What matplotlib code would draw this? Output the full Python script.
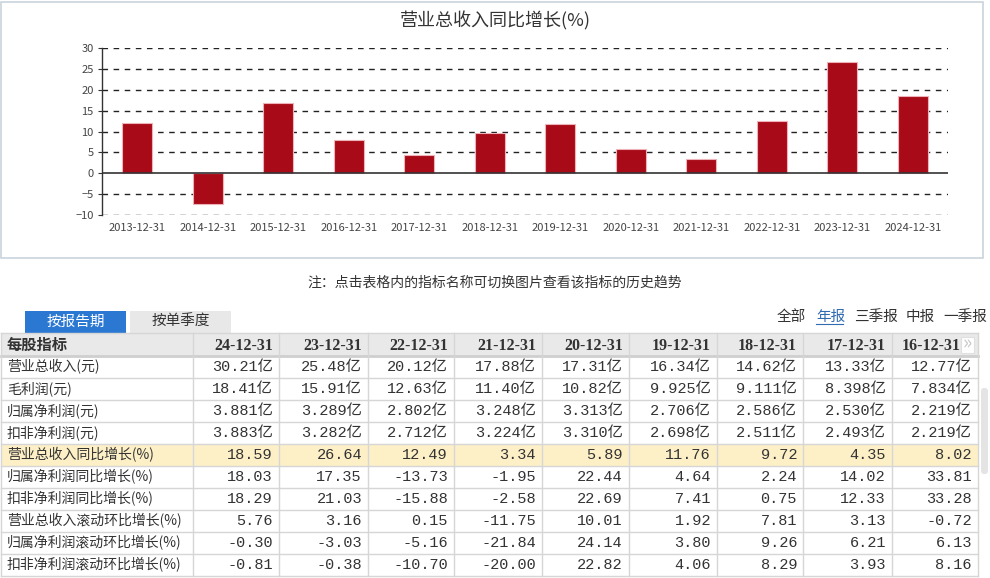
import matplotlib
matplotlib.use('Agg')
import matplotlib.pyplot as plt
from matplotlib.patches import Rectangle, FancyBboxPatch

plt.rcParams['font.family'] = ['Noto Sans CJK SC', 'DejaVu Sans']

years = ['2013-12-31', '2014-12-31', '2015-12-31', '2016-12-31', '2017-12-31', '2018-12-31',
         '2019-12-31', '2020-12-31', '2021-12-31', '2022-12-31', '2023-12-31', '2024-12-31']
growth = [12.0, -7.3, 16.8, 8.02, 4.35, 9.72, 11.76, 5.89, 3.34, 12.49, 26.64, 18.59]

col_dates = ['24-12-31', '23-12-31', '22-12-31', '21-12-31', '20-12-31',
             '19-12-31', '18-12-31', '17-12-31', '16-12-31']
row_names = ['营业总收入(元)', '毛利润(元)', '归属净利润(元)', '扣非净利润(元)',
             '营业总收入同比增长(%)', '归属净利润同比增长(%)', '扣非净利润同比增长(%)',
             '营业总收入滚动环比增长(%)', '归属净利润滚动环比增长(%)', '扣非净利润滚动环比增长(%)']
revenue = ['30.21亿', '25.48亿', '20.12亿', '17.88亿', '17.31亿', '16.34亿', '14.62亿', '13.33亿', '12.77亿']
gross = ['18.41亿', '15.91亿', '12.63亿', '11.40亿', '10.82亿', '9.925亿', '9.111亿', '8.398亿', '7.834亿']
net = ['3.881亿', '3.289亿', '2.802亿', '3.248亿', '3.313亿', '2.706亿', '2.586亿', '2.530亿', '2.219亿']
net_adj = ['3.883亿', '3.282亿', '2.712亿', '3.224亿', '3.310亿', '2.698亿', '2.511亿', '2.493亿', '2.219亿']
rev_yoy = ['18.59', '26.64', '12.49', '3.34', '5.89', '11.76', '9.72', '4.35', '8.02']
net_yoy = ['18.03', '17.35', '-13.73', '-1.95', '22.44', '4.64', '2.24', '14.02', '33.81']
adj_yoy = ['18.29', '21.03', '-15.88', '-2.58', '22.69', '7.41', '0.75', '12.33', '33.28']
rev_qoq = ['5.76', '3.16', '0.15', '-11.75', '10.01', '1.92', '7.81', '3.13', '-0.72']
net_qoq = ['-0.30', '-3.03', '-5.16', '-21.84', '24.14', '3.80', '9.26', '6.21', '6.13']
adj_qoq = ['-0.81', '-0.38', '-10.70', '-20.00', '22.82', '4.06', '8.29', '3.93', '8.16']
table_rows = [revenue, gross, net, net_adj, rev_yoy, net_yoy, adj_yoy, rev_qoq, net_qoq, adj_qoq]

W, H = 990, 578
fig = plt.figure(figsize=(W / 100, H / 100), dpi=100)

# page overlay in pixel coordinates
pg = fig.add_axes([0, 0, 1, 1])
pg.set_xlim(0, W)
pg.set_ylim(H, 0)
pg.axis('off')

txt = '#333333'

# chart panel border
pg.add_patch(Rectangle((1, 2), 982, 256, fill=False, ec='#c9d4dc', lw=1.2))
pg.text(495, 21, '营业总收入同比增长(%)', ha='center', va='center', fontsize=13, color=txt)

# note
pg.text(495, 282, '注：点击表格内的指标名称可切换图片查看该指标的历史趋势',
        ha='center', va='center', fontsize=10, color=txt)

# tabs
pg.add_patch(Rectangle((25, 311), 101, 22, fc='#2b78d2', ec='none'))
pg.text(75.5, 322, '按报告期', ha='center', va='center', fontsize=10.5, color='white')
pg.add_patch(Rectangle((130, 311), 101, 22, fc='#e8e8e8', ec='none'))
pg.text(180.5, 322, '按单季度', ha='center', va='center', fontsize=10.5, color=txt)

# report type links
links = [('全部', 777, txt), ('年报', 816, '#2f6bb0'), ('三季报', 854, txt),
         ('中报', 906, txt), ('一季报', 943, txt)]
for s, x, c in links:
    pg.text(x, 317, s, ha='left', va='center', fontsize=10.5, color=c)
pg.plot([816, 843], [324, 324], color='#2f6bb0', lw=0.8)

# table
col_edges = [1, 193, 279, 368, 454, 542, 629, 717, 803, 892, 978]
head_top, head_bot, row_h = 333, 356, 22
grid_c = '#d6d6d6'
num_font = ['Liberation Mono', 'Noto Sans CJK SC']

pg.add_patch(Rectangle((1, head_top), 977, head_bot - head_top, fc='#e9e9e9', ec='none'))
pg.text(7, (head_top + head_bot) / 2, '每股指标', ha='left', va='center',
        fontsize=11, fontweight='bold', color=txt)
for j, d in enumerate(col_dates):
    xr = col_edges[j + 2] - 6
    if j == len(col_dates) - 1:
        xr = col_edges[j + 2] - 17
    pg.text(xr, (head_top + head_bot) / 2 + 1, d, ha='right', va='center',
            fontsize=11.5, fontweight='bold', family='Liberation Serif', color=txt)

# >> icon in last header cell
pg.add_patch(Rectangle((961, 337), 13, 16, fc='white', ec='#e0e0e0', lw=0.8))
pg.text(967.5, 344, '»', ha='center', va='center', fontsize=14, color='#c8c8c8')

for i, (name, vals) in enumerate(zip(row_names, table_rows)):
    top = head_bot + i * row_h
    if i == 4:
        pg.add_patch(Rectangle((1, top), 977, row_h, fc='#fdf0c6', ec='none'))
    yc = top + row_h / 2
    pg.text(7, yc, name, ha='left', va='center', fontsize=10, color=txt)
    for j, v in enumerate(vals):
        pg.text(col_edges[j + 2] - 6, yc, v, ha='right', va='center', fontsize=11,
                family=num_font, color=txt)

bottom = head_bot + len(row_names) * row_h
for k in range(len(row_names) + 2):
    y = head_top if k == 0 else head_bot + (k - 1) * row_h
    pg.plot([1, 978], [y, y], color=grid_c, lw=1)
pg.plot([1, 978], [head_bot, head_bot], color='#cfcfcf', lw=2)
for x in col_edges:
    pg.plot([x, x], [head_top, bottom], color=grid_c, lw=1)

# scrollbar
pg.add_patch(FancyBboxPatch((981, 388), 7, 86, boxstyle='round,pad=0,rounding_size=3',
                            fc='#e4e4e4', ec='none'))

# bar chart
x0, x1, y_top, y_bot = 102, 948, 48, 215
ax = fig.add_axes([x0 / W, 1 - y_bot / H, (x1 - x0) / W, (y_bot - y_top) / H])
xs = range(len(years))
ax.bar(xs, growth, width=0.425, color='#a80a18', edgecolor='#eeb3b8', linewidth=0.8, zorder=3)
ax.set_xlim(-0.5, len(years) - 0.5)
ax.set_ylim(-10, 30)
ax.set_yticks(range(-10, 31, 5))
for v in range(-10, 31, 5):
    if v != 0:
        ax.axhline(v, color='#222222', lw=1, ls=(0, (4, 4)), zorder=1)
ax.axhline(0, color='#333333', lw=1.2, zorder=4)
ax.set_xticks(list(xs))
ax.set_xticklabels(years)
ax.tick_params(axis='x', length=0, pad=6, labelsize=8, labelcolor='#444444')
ax.tick_params(axis='y', length=3, width=0.8, color='#333333', pad=3, labelsize=8,
               labelcolor='#444444')
for s in ['top', 'right', 'bottom']:
    ax.spines[s].set_visible(False)
ax.spines['left'].set_color('#333333')
ax.spines['left'].set_linewidth(1)
ax.set_facecolor('none')

fig.savefig('out.png', dpi=100)
